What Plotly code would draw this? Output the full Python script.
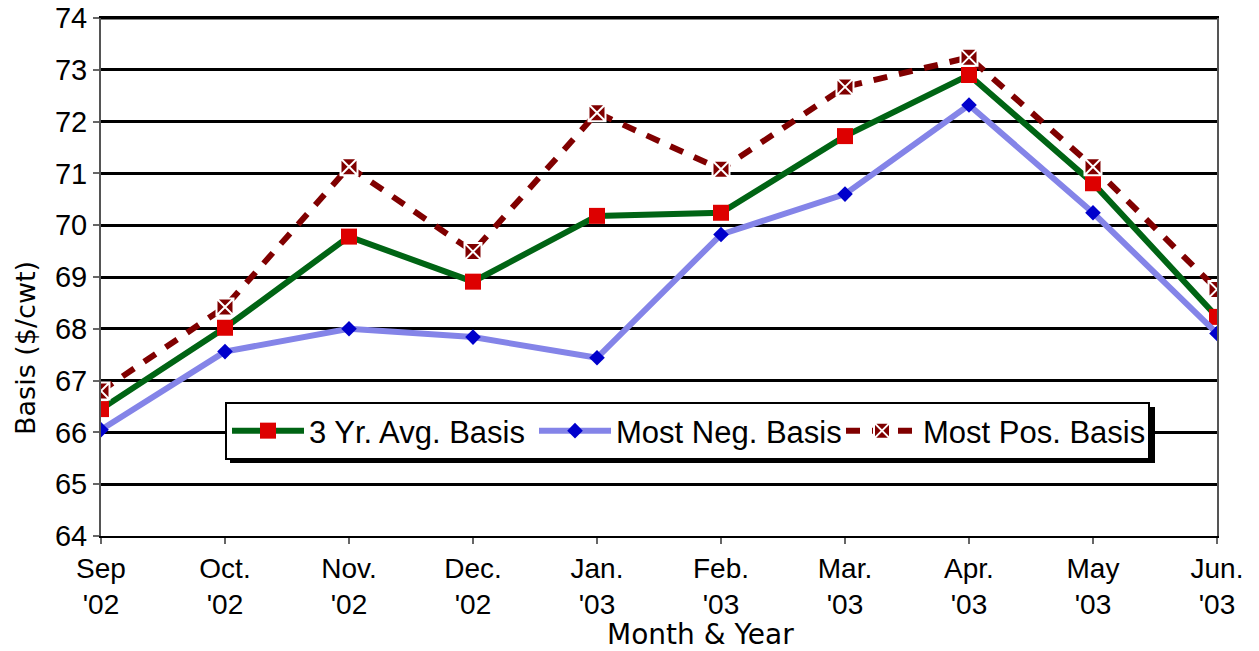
import plotly.graph_objects as go

months = ["Sep<br>'02", "Oct.<br>'02", "Nov.<br>'02", "Dec.<br>'02", "Jan.<br>'03",
          "Feb.<br>'03", "Mar.<br>'03", "Apr.<br>'03", "May<br>'03", "Jun.<br>'03"]
avg_basis = [66.45, 68.02, 69.78, 68.91, 70.18, 70.24, 71.72, 72.90, 70.81, 68.23]
neg_basis = [66.05, 67.56, 68.00, 67.84, 67.44, 69.82, 70.60, 72.32, 70.24, 67.91]
pos_basis = [66.80, 68.42, 71.13, 69.49, 72.17, 71.08, 72.67, 73.24, 71.13, 68.76]
y_ticks = [64, 65, 66, 67, 68, 69, 70, 71, 72, 73, 74]

x = list(range(len(months)))
FONT = "Liberation Sans, Arial, sans-serif"
FONT2 = "DejaVu Sans, Verdana, sans-serif"

fig = go.Figure()
fig.add_trace(go.Scatter(
    x=x, y=avg_basis, name="3 Yr. Avg. Basis", mode="lines+markers",
    line=dict(color="#006414", width=6),
    marker=dict(symbol="square", size=16, color="#DD0000"),
))
fig.add_trace(go.Scatter(
    x=x, y=neg_basis, name="Most Neg. Basis", mode="lines+markers",
    line=dict(color="#8484E8", width=6),
    marker=dict(symbol="diamond", size=12, color="#0000CC"),
))
fig.add_trace(go.Scatter(
    x=x, y=pos_basis, name="Most Pos. Basis", mode="lines+markers",
    line=dict(color="#800000", width=6, dash="14px,12px"),
    marker=dict(symbol="square-x", size=17, color="#800000",
                line=dict(color="white", width=2)),
))

# screen-pixel helpers (plot area spans x 101..1217, y 18..536 on screen)
def px_x(p):
    return (p - 101) / 1116.0

def px_y(p):
    return (536 - p) / 518.0

fig.update_layout(
    width=1259, height=651,
    margin=dict(l=93, r=50, t=10, b=123, autoexpand=False),
    paper_bgcolor="white", plot_bgcolor="white",
    font=dict(family=FONT, size=28, color="black"),
    showlegend=True,
    legend=dict(
        orientation="h", x=px_x(225), y=px_y(402), xanchor="left", yanchor="top",
        bgcolor="white", bordercolor="black", borderwidth=2,
        font=dict(family=FONT, size=31, color="black"),
        itemwidth=72, entrywidth=220, tracegroupgap=0,
    ),
    xaxis=dict(
        range=[0, 9], tickmode="array", tickvals=x, ticktext=months,
        showgrid=False, zeroline=False, automargin=False,
        showline=True, linecolor="black", linewidth=2, mirror=True,
        ticks="outside", ticklen=6, tickcolor="#666666", tickwidth=2,
        tickfont=dict(family=FONT, size=28, color="black"),
        ticklabeloverflow="allow",
    ),
    yaxis=dict(
        range=[64, 74], tickmode="array", tickvals=y_ticks,
        showgrid=True, gridcolor="black", gridwidth=3, zeroline=False, automargin=False,
        showline=True, linecolor="#555555", linewidth=2, mirror=True,
        ticks="outside", ticklen=6, tickcolor="#666666", tickwidth=2,
        tickfont=dict(family=FONT, size=29, color="black"),
        ticklabeloverflow="allow",
    ),
    shapes=[
        dict(type="line", xref="paper", yref="paper", layer="below",
             x0=0, x1=1, y0=1, y1=1, line=dict(color="black", width=3)),
        dict(type="rect", xref="paper", yref="paper", layer="above",
             x0=px_x(230), x1=px_x(1155), y0=px_y(463), y1=px_y(407),
             fillcolor="black", line=dict(width=0)),
    ],
    annotations=[
        dict(text="Month & Year", xref="paper", yref="paper", x=px_x(700), y=px_y(634),
             xanchor="center", yanchor="middle", showarrow=False,
             font=dict(family=FONT2, size=28, color="black")),
        dict(text="Basis ($/cwt)", xref="paper", yref="paper", x=px_x(25), y=px_y(348),
             xanchor="center", yanchor="middle", showarrow=False, textangle=-90,
             font=dict(family=FONT2, size=27, color="black")),
    ],
)

fig.write_html("out.html")
